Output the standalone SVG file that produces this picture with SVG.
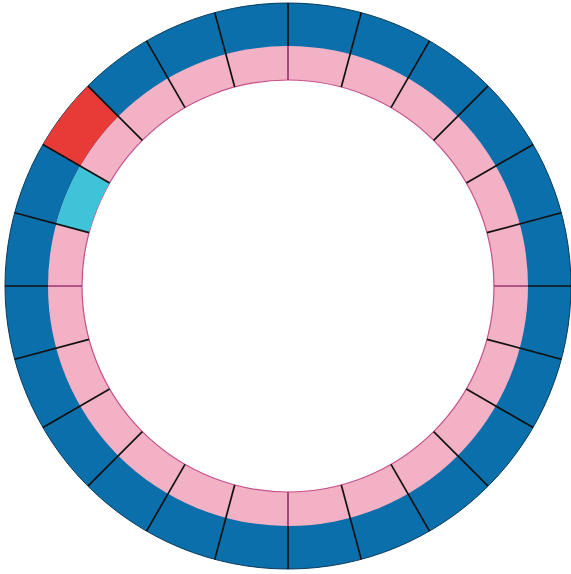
<svg xmlns="http://www.w3.org/2000/svg" width="571" height="574" viewBox="0 0 571 574">
<style>
.blue{fill:#0b6fab;stroke:#0a3a5a;stroke-width:1}
.pink{fill:#f3b1c5}
.hole{fill:#ffffff;stroke:#c4508a;stroke-width:1.2}
.red{fill:#e83a36}
.cyan{fill:#3fc3d8}
.div{stroke:#111;stroke-width:1.7}
.card{stroke:#9a3570;stroke-width:1.7}
</style>
<rect width="571" height="574" fill="#ffffff"/>
<g id="rings">
<circle class="blue" cx="288" cy="286" r="283"/>
<circle class="pink" cx="288" cy="286" r="240"/>
<circle class="hole" cx="288" cy="286" r="206"/>
</g>
<g id="cells">
<path class="red" d="M87.9,85.9 A283,283 0 0 0 42.9,144.5 L80.2,166 A240,240 0 0 1 118.3,116.3 Z"/>
<path class="cyan" d="M80.2,166 A240,240 0 0 0 56.2,223.9 L89,232.7 A206,206 0 0 1 109.6,183 Z"/>
</g>
<g id="dividers" transform="translate(288,286)">
<g id="cardinal">
<line class="div" x1="0" y1="-240" x2="0" y2="-283"/>
<line class="card" x1="0" y1="-206" x2="0" y2="-240"/>
<g transform="rotate(90)"><line class="div" x1="0" y1="-240" x2="0" y2="-283"/><line class="card" x1="0" y1="-206" x2="0" y2="-240"/></g>
<g transform="rotate(180)"><line class="div" x1="0" y1="-240" x2="0" y2="-283"/><line class="card" x1="0" y1="-206" x2="0" y2="-240"/></g>
<g transform="rotate(270)"><line class="div" x1="0" y1="-240" x2="0" y2="-283"/><line class="card" x1="0" y1="-206" x2="0" y2="-240"/></g>
</g>
<g id="radial" class="div">
<line x1="0" y1="-206" x2="0" y2="-283" transform="rotate(15)"/>
<line x1="0" y1="-206" x2="0" y2="-283" transform="rotate(30)"/>
<line x1="0" y1="-206" x2="0" y2="-283" transform="rotate(45)"/>
<line x1="0" y1="-206" x2="0" y2="-283" transform="rotate(60)"/>
<line x1="0" y1="-206" x2="0" y2="-283" transform="rotate(75)"/>
<line x1="0" y1="-206" x2="0" y2="-283" transform="rotate(105)"/>
<line x1="0" y1="-206" x2="0" y2="-283" transform="rotate(120)"/>
<line x1="0" y1="-206" x2="0" y2="-283" transform="rotate(135)"/>
<line x1="0" y1="-206" x2="0" y2="-283" transform="rotate(150)"/>
<line x1="0" y1="-206" x2="0" y2="-283" transform="rotate(165)"/>
<line x1="0" y1="-206" x2="0" y2="-283" transform="rotate(195)"/>
<line x1="0" y1="-206" x2="0" y2="-283" transform="rotate(210)"/>
<line x1="0" y1="-206" x2="0" y2="-283" transform="rotate(225)"/>
<line x1="0" y1="-206" x2="0" y2="-283" transform="rotate(240)"/>
<line x1="0" y1="-206" x2="0" y2="-283" transform="rotate(255)"/>
<line x1="0" y1="-206" x2="0" y2="-283" transform="rotate(285)"/>
<line x1="0" y1="-206" x2="0" y2="-283" transform="rotate(300)"/>
<line x1="0" y1="-206" x2="0" y2="-283" transform="rotate(315)"/>
<line x1="0" y1="-206" x2="0" y2="-283" transform="rotate(330)"/>
<line x1="0" y1="-206" x2="0" y2="-283" transform="rotate(345)"/>
</g>
</g>
</svg>
